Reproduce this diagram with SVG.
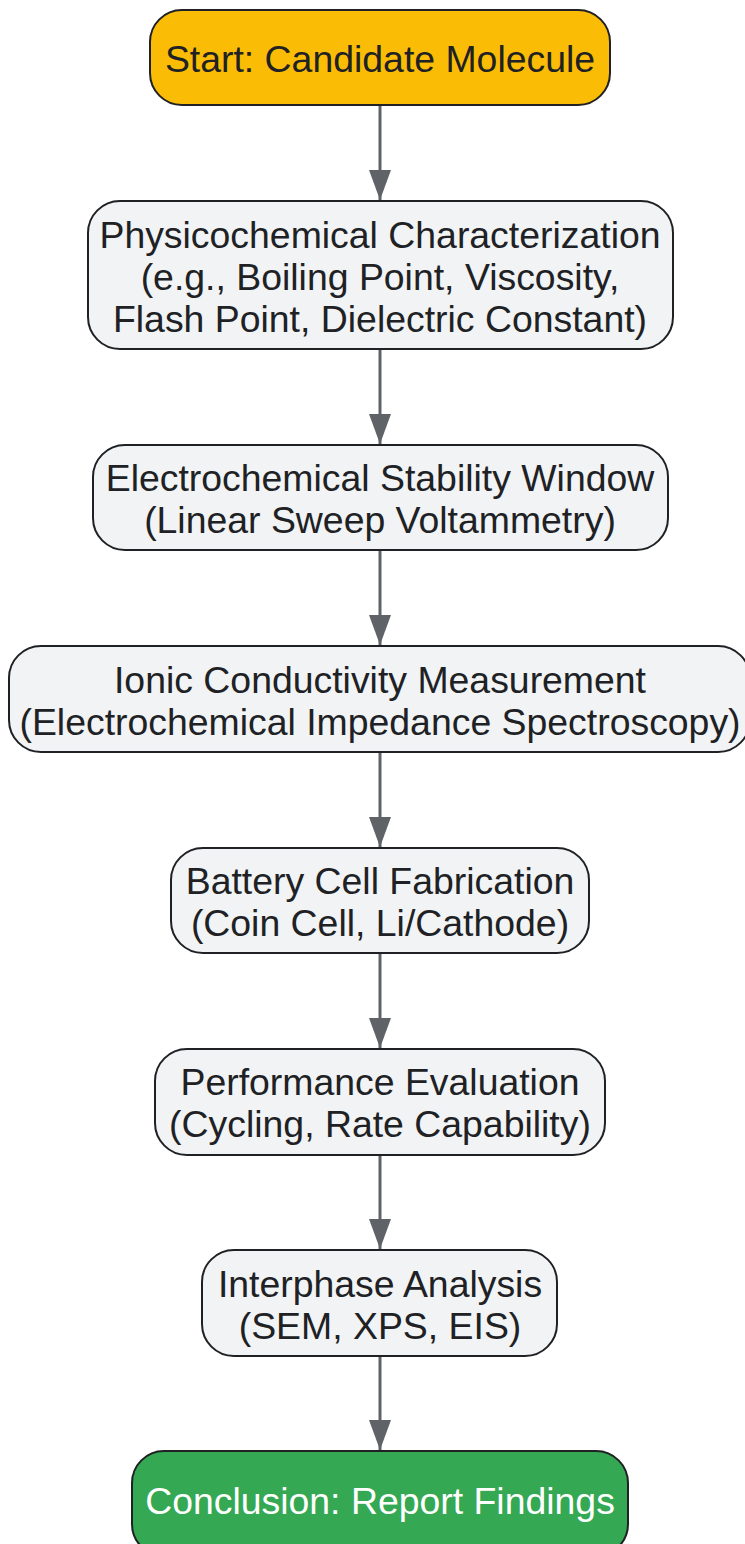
<svg xmlns="http://www.w3.org/2000/svg" width="745" height="1544" viewBox="0 0 745 1544">
<defs>
<marker id="arr" viewBox="0 0 30 22" refX="30" refY="11" markerWidth="30" markerHeight="22" markerUnits="userSpaceOnUse" orient="auto">
<path d="M0,0 L30,11 L0,22 Z" fill="#5f6368"/>
</marker>
<style>
.n{fill:#f1f3f4;stroke:#202124;stroke-width:2}
.t{font-family:"Liberation Sans",Arial,sans-serif;font-size:37.4px;fill:#202124;text-anchor:middle}
.e{stroke:#5f6368;stroke-width:3;fill:none}
</style>
</defs>
<g id="edges">
<line class="e" x1="380" y1="106" x2="380" y2="200" marker-end="url(#arr)"/>
<line class="e" x1="380" y1="350" x2="380" y2="444" marker-end="url(#arr)"/>
<line class="e" x1="380" y1="551" x2="380" y2="645" marker-end="url(#arr)"/>
<line class="e" x1="380" y1="753" x2="380" y2="847" marker-end="url(#arr)"/>
<line class="e" x1="380" y1="954" x2="380" y2="1048" marker-end="url(#arr)"/>
<line class="e" x1="380" y1="1156" x2="380" y2="1249" marker-end="url(#arr)"/>
<line class="e" x1="380" y1="1357" x2="380" y2="1450" marker-end="url(#arr)"/>
</g>
<g id="start">
<rect x="150" y="10" width="460" height="95" rx="32" fill="#fbbc05" stroke="#202124" stroke-width="2"/>
<text class="t" x="380" y="72">Start: Candidate Molecule</text>
</g>
<g id="physico">
<rect class="n" x="88" y="201" width="585" height="148" rx="32"/>
<text class="t" x="380" y="248">Physicochemical Characterization</text>
<text class="t" x="380" y="290">(e.g., Boiling Point, Viscosity,</text>
<text class="t" x="380" y="332">Flash Point, Dielectric Constant)</text>
</g>
<g id="esw">
<rect class="n" x="93" y="445" width="575" height="105" rx="32"/>
<text class="t" x="380" y="491">Electrochemical Stability Window</text>
<text class="t" x="380" y="533">(Linear Sweep Voltammetry)</text>
</g>
<g id="ionic">
<rect class="n" x="9" y="646" width="741" height="106" rx="32"/>
<text class="t" x="380" y="693">Ionic Conductivity Measurement</text>
<text class="t" x="380" y="735">(Electrochemical Impedance Spectroscopy)</text>
</g>
<g id="battery">
<rect class="n" x="171" y="848" width="418" height="105" rx="32"/>
<text class="t" x="380" y="894">Battery Cell Fabrication</text>
<text class="t" x="380" y="936">(Coin Cell, Li/Cathode)</text>
</g>
<g id="perf">
<rect class="n" x="155" y="1049" width="450" height="106" rx="32"/>
<text class="t" x="380" y="1095">Performance Evaluation</text>
<text class="t" x="380" y="1137">(Cycling, Rate Capability)</text>
</g>
<g id="interphase">
<rect class="n" x="202" y="1250" width="355" height="106" rx="32"/>
<text class="t" x="380" y="1297">Interphase Analysis</text>
<text class="t" x="380" y="1339">(SEM, XPS, EIS)</text>
</g>
<g id="conclusion">
<rect x="132" y="1451" width="496" height="105" rx="32" fill="#34a853" stroke="#202124" stroke-width="2"/>
<text class="t" x="380" y="1514" style="fill:#ffffff">Conclusion: Report Findings</text>
</g>
</svg>
